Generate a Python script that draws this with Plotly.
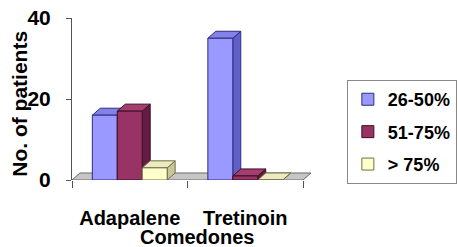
import plotly.graph_objects as go

categories = ["Adapalene", "Tretinoin"]
series_names = ["26-50%", "51-75%", "> 75%"]
vals_26_50 = [16, 35]
vals_51_75 = [17, 1]
vals_gt_75 = [3, 0]
y_ticks = [0, 20, 40]
x_title = "Comedones"
y_title = "No. of patients"

series_values = [vals_26_50, vals_51_75, vals_gt_75]
front = ["#9999FF", "#993366", "#FFFFCC"]
top = ["#8282ea", "#a63d70", "#ebebbf"]
side = ["#6060c6", "#661c42", "#c6c699"]
edge = ["#2e2e78", "#3a0f24", "#6f6f45"]

FONT = "Liberation Sans, Arial, sans-serif"

W = 0.216   # bar width (x units)
DX = 0.069  # depth offset x (x units)
DY = 1.73   # depth offset y (y units)
centers = [i + 0.5 for i in range(len(categories))]
offsets = [-W, 0.0, W]
nx = len(categories)

fig = go.Figure()

# floor slab
fig.add_trace(go.Scatter(
    x=[0, nx, nx + DX, DX, 0], y=[0, 0, DY, DY, 0],
    fill="toself", fillcolor="#c6c6c6", mode="lines",
    line=dict(color="#6a6a6a", width=1), hoverinfo="skip", showlegend=False))

# 3D depth faces (side + top) drawn left to right
for ci, c in enumerate(centers):
    for si, vals in enumerate(series_values):
        h = vals[ci]
        xl = c + offsets[si] - W / 2
        xr = xl + W
        fig.add_trace(go.Scatter(
            x=[xr, xr + DX, xr + DX, xr, xr], y=[0, DY, h + DY, h, 0],
            fill="toself", fillcolor=side[si], mode="lines",
            line=dict(color=edge[si], width=1), hoverinfo="skip", showlegend=False))
        fig.add_trace(go.Scatter(
            x=[xl, xl + DX, xr + DX, xr, xl], y=[h, h + DY, h + DY, h, h],
            fill="toself", fillcolor=top[si], mode="lines",
            line=dict(color=edge[si], width=1), hoverinfo="skip", showlegend=False))

# front faces as real bars on an overlaid axis pair
for si, vals in enumerate(series_values):
    fig.add_trace(go.Bar(
        x=[c + offsets[si] for c in centers], y=vals, width=W,
        name=series_names[si], xaxis="x2", yaxis="y2",
        marker=dict(color=front[si], line=dict(color=edge[si], width=1)),
        legendgroup=series_names[si]))

xr_max = nx + DX
fig.update_layout(
    width=458, height=247,
    margin=dict(l=72, r=147, t=18, b=67, autoexpand=False),
    paper_bgcolor="white", plot_bgcolor="rgba(0,0,0,0)",
    font=dict(family=FONT, color="black"),
    showlegend=True,
    barmode="overlay",
    xaxis=dict(range=[0, xr_max], tickvals=list(range(nx + 1)),
               ticktext=[""] * (nx + 1), ticks="outside", ticklen=7,
               tickcolor="#555555", showline=False, showgrid=False,
               zeroline=False, fixedrange=True, automargin=False),
    yaxis=dict(range=[y_ticks[0], y_ticks[-1]], tickvals=y_ticks,
               ticks="outside", ticklen=5, tickcolor="#555555",
               showline=True, linecolor="#555555", linewidth=1,
               showgrid=False, zeroline=False, ticklabelstandoff=11,
               ticklabeloverflow="allow", automargin=False,
               tickfont=dict(size=21, weight="bold")),
    xaxis2=dict(overlaying="x", anchor="y2", range=[0, xr_max],
                tickvals=centers, ticktext=categories, ticks="",
                showline=False, showgrid=False, zeroline=False,
                ticklabelstandoff=24, automargin=False,
                tickfont=dict(size=20, weight="bold")),
    yaxis2=dict(overlaying="y", range=[y_ticks[0], y_ticks[-1]], visible=False),
    legend=dict(x=1.15, y=0.617, xanchor="left", yanchor="top",
                bordercolor="#888888", borderwidth=1, bgcolor="white",
                font=dict(size=18, weight="bold"), itemwidth=30,
                traceorder="grouped", tracegroupgap=6),
    annotations=[
        dict(text=x_title, xref="paper", yref="paper", x=0.523, y=-0.35,
             xanchor="center", yanchor="middle", showarrow=False,
             font=dict(size=20, weight="bold")),
        dict(text=y_title, xref="paper", yref="paper", x=-0.218, y=0.47,
             xanchor="center", yanchor="middle", showarrow=False, textangle=-90,
             font=dict(size=21, weight="bold")),
    ],
)

# remove the browser's default 8px body margin so the figure fills the window
fig.write_html("out.html",
               config={"displayModeBar": False},
               post_script="document.body.style.margin='0';document.body.style.overflow='hidden';")
